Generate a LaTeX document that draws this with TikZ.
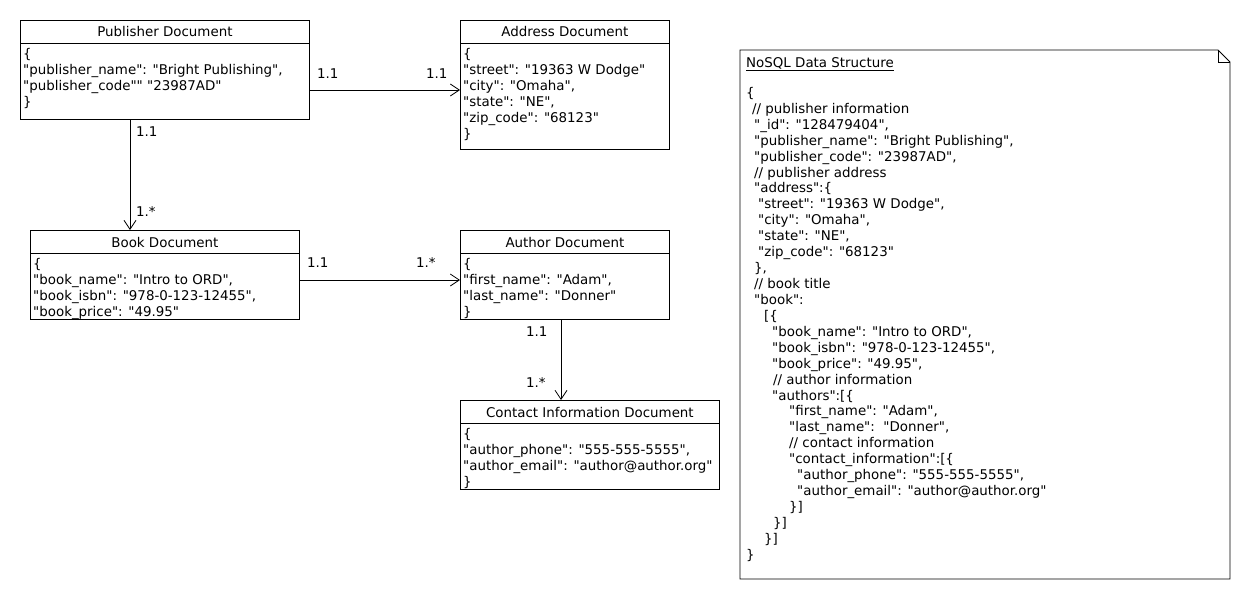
\documentclass[tikz,border=0pt]{standalone}
\usepackage{fontspec}
\setmainfont{DejaVu Sans}[Ligatures=TeXOff]
\usetikzlibrary{calc,arrows.meta}
\begin{document}
\begin{tikzpicture}[x=1pt,y=-1pt,
  txt/.style={font=\fontsize{13.4}{16}\selectfont, inner sep=0pt},
  docbox/.style={draw, line width=0.8pt, anchor=north west, inner sep=0pt},
  head/.style={txt, anchor=center},
  body/.style={txt, anchor=north west, align=left},
  mult/.style={txt, anchor=base west},
  uml/.style={draw, line width=0.8pt, -{Straight Barb[length=9pt, width=12pt, line width=0.8pt]}},
]
\useasboundingbox (0,0) rectangle (1250,600);

% ---- document boxes: outline, header rule, title, body
\newcommand{\docbox}[7]{%
  \node[docbox, minimum width=#4, minimum height=#5] (#1) at (#2,#3) {};
  \draw[line width=0.8pt] ($(#1.north west)+(0,23)$) -- ($(#1.north east)+(0,23)$);
  \node[head] (#1-title) at ($(#1.north)+(0,12)$) {#6};
  \node[body] (#1-body) at ($(#1.north west)+(3,28)$) {#7};
}

\docbox{pub}{20}{20}{289}{99}{Publisher Document}%
  {\{\\"publisher\_name": "Bright Publishing",\\"publisher\_code"" "23987AD"\\\}}
\docbox{addr}{460}{20}{209}{129}{Address Document}%
  {\{\\"street": "19363 W Dodge"\\"city": "Omaha",\\"state": "NE",\\"zip\_code": "68123"\\\}}
\docbox{book}{30}{230}{269}{89}{Book Document}%
  {\{\\"book\_name": "Intro to ORD",\\"book\_isbn": "978-0-123-12455",\\"book\_price": "49.95"}
\docbox{auth}{460}{230}{209}{89}{Author Document}%
  {\{\\"first\_name": "Adam",\\"last\_name": "Donner"\\\}}
\docbox{cont}{460}{400}{259}{89}{Contact Information Document}%
  {\{\\"author\_phone": "555-555-5555",\\"author\_email": "author@author.org"\\\}}

% ---- associations
\coordinate (pa) at ($(pub.north east)+(0,70)$);
\draw[uml] (pa) -- (pa -| addr.west);
\node[mult] at ($(pa)+(7,-12)$) {1.1};
\node[mult] at ($(pa -| addr.west)+(-34,-12)$) {1.1};

\coordinate (pb) at ($(pub.south west)+(110,0)$);
\draw[uml] (pb) -- (pb |- book.north);
\node[mult] at ($(pb)+(6,17)$) {1.1};
\node[mult] at ($(pb |- book.north)+(6,-14)$) {1.*};

\coordinate (ba) at ($(book.north east)+(0,50)$);
\draw[uml] (ba) -- (ba -| auth.west);
\node[mult] at ($(ba)+(7,-13)$) {1.1};
\node[mult] at ($(ba -| auth.west)+(-44,-13)$) {1.*};

\coordinate (ac) at ($(auth.south west)+(101,0)$);
\draw[uml] (ac) -- (ac |- cont.north);
\node[mult] at ($(ac)+(-35,17)$) {1.1};
\node[mult] at ($(ac |- cont.north)+(-35,-13)$) {1.*};

% ---- note with folded corner
\draw[line width=0.8pt] (740,50) -- (1218,50) -- (1230,62) -- (1230,579) -- (740,579) -- cycle;
\draw[line width=0.8pt] (1218,50) -- (1218,62) -- (1230,62);
\node[mult] (notetitle) at (746,67) {\underline{NoSQL Data Structure}};
\node[body, font=\fontsize{13.4}{15.93}\selectfont] (notebody) at (746,87) {%
\{\\
\hspace*{6pt}// publisher information\\
\hspace*{8pt}"\_id": "128479404",\\
\hspace*{8pt}"publisher\_name": "Bright Publishing",\\
\hspace*{8pt}"publisher\_code": "23987AD",\\
\hspace*{8pt}// publisher address\\
\hspace*{8pt}"address":\{\\
\hspace*{12pt}"street": "19363 W Dodge",\\
\hspace*{12pt}"city": "Omaha",\\
\hspace*{12pt}"state": "NE",\\
\hspace*{12pt}"zip\_code": "68123"\\
\hspace*{8pt}\},\\
\hspace*{8pt}// book title\\
\hspace*{8pt}"book":\\
\hspace*{18pt}[\{\\
\hspace*{26pt}"book\_name": "Intro to ORD",\\
\hspace*{26pt}"book\_isbn": "978-0-123-12455",\\
\hspace*{26pt}"book\_price": "49.95",\\
\hspace*{27pt}// author information\\
\hspace*{26pt}"authors":[\{\\
\hspace*{43pt}"first\_name": "Adam",\\
\hspace*{43pt}"last\_name":\ \ "Donner",\\
\hspace*{43pt}// contact information\\
\hspace*{43pt}"contact\_information":[\{\\
\hspace*{51pt}"author\_phone": "555-555-5555",\\
\hspace*{51pt}"author\_email": "author@author.org"\\
\hspace*{43pt}\}]\\
\hspace*{27pt}\}]\\
\hspace*{18pt}\}]\\
\}};
\end{tikzpicture}
\end{document}
